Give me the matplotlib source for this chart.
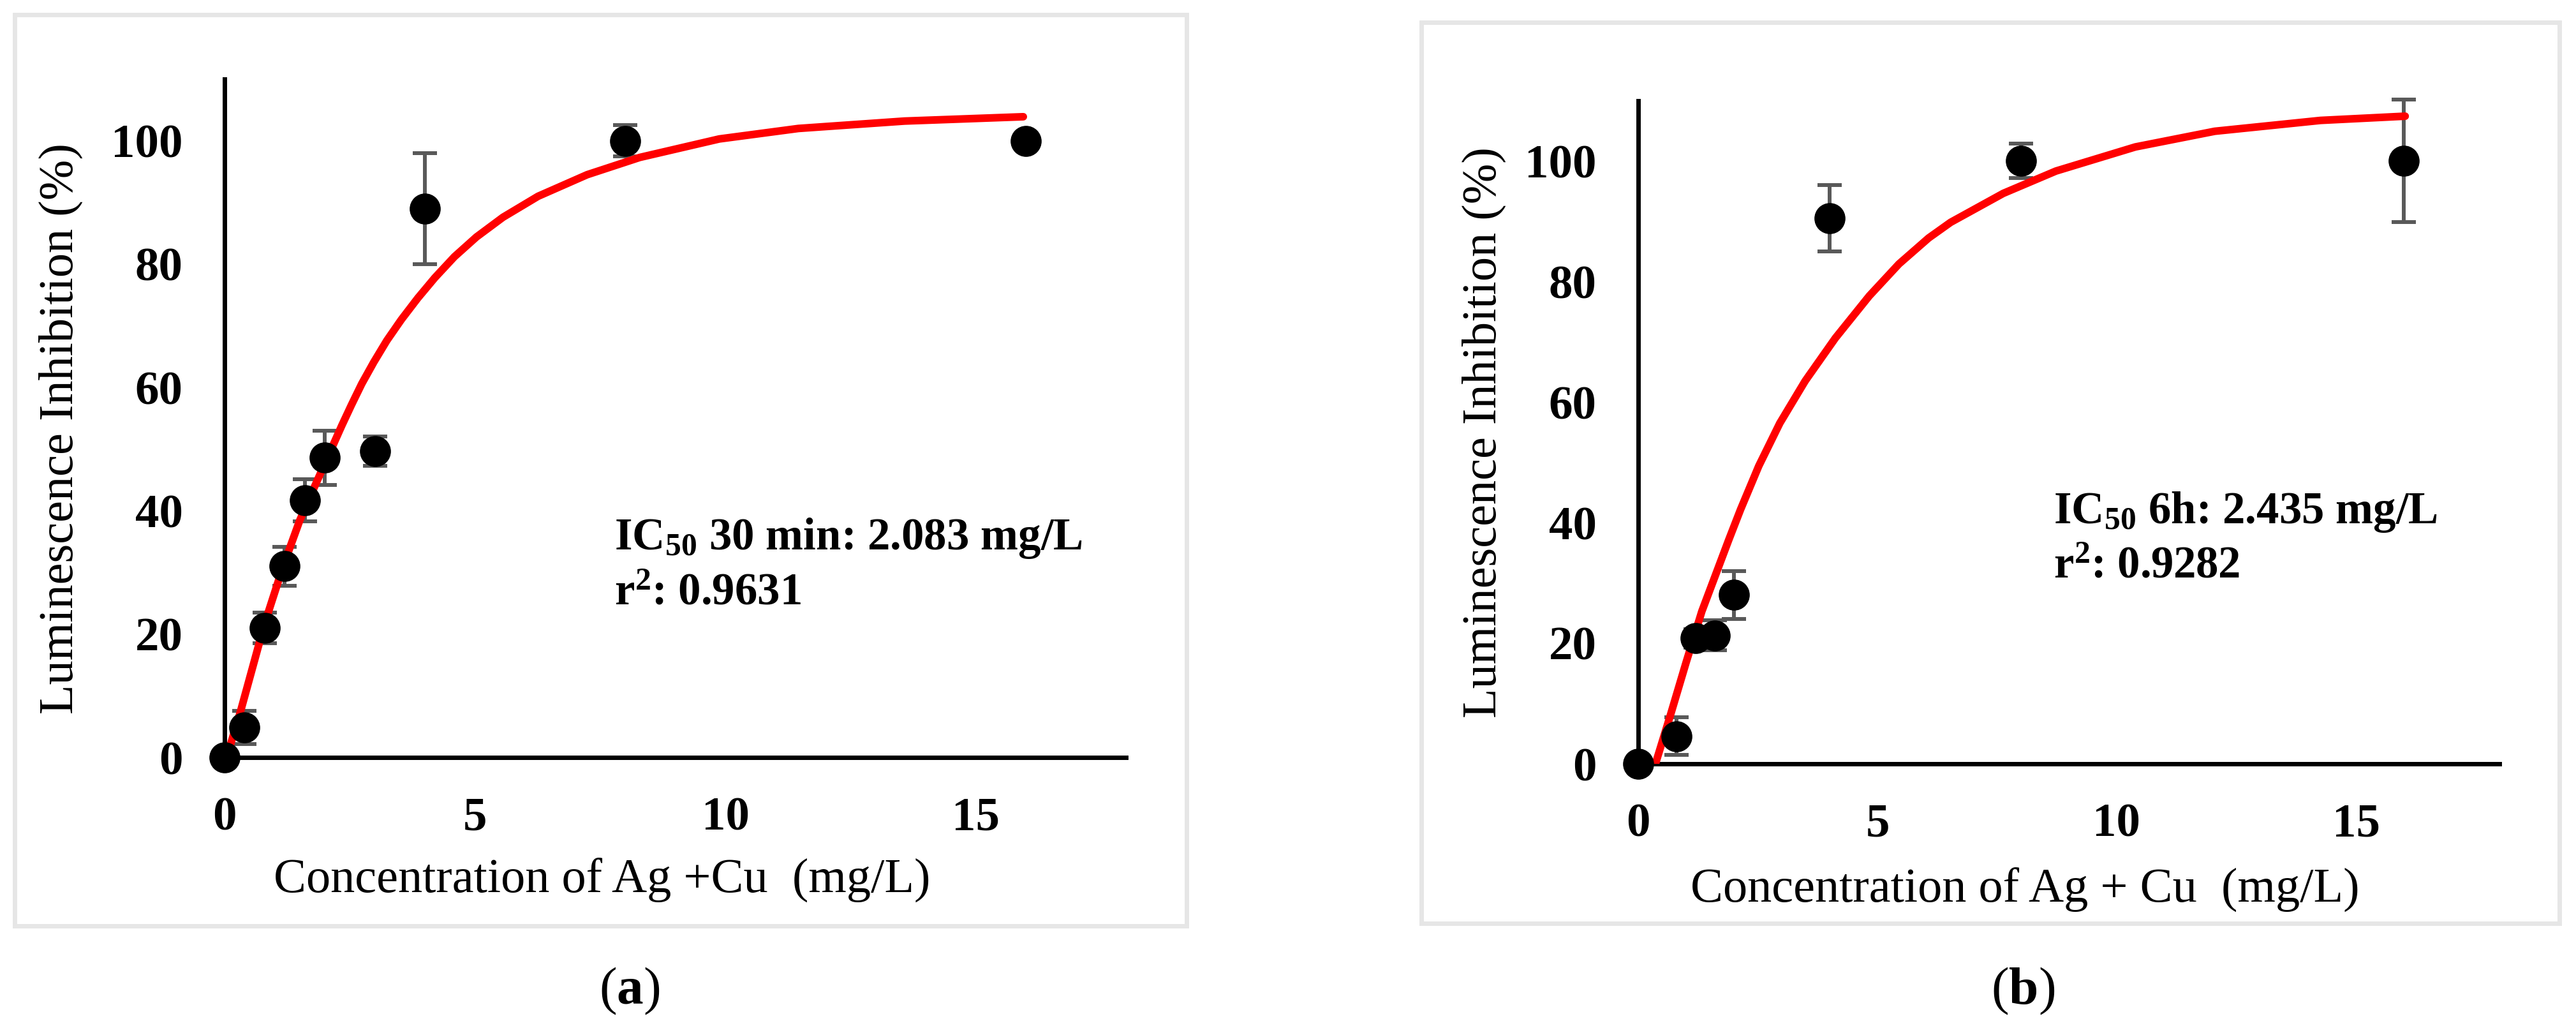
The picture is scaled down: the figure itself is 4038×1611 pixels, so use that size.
import matplotlib
matplotlib.use("Agg")
import matplotlib.pyplot as plt
from matplotlib.patches import Rectangle

plt.rcParams['font.family'] = ['Liberation Serif', 'DejaVu Serif']
plt.rcParams['mathtext.fontset'] = 'custom'
plt.rcParams['mathtext.rm'] = 'Liberation Serif:bold'
plt.rcParams['mathtext.it'] = 'Liberation Serif:bold:italic'
plt.rcParams['mathtext.bf'] = 'Liberation Serif:bold'

# (a) 30 min exposure
conc_a = [0, 0.4, 0.8, 1.2, 1.6, 2.0, 3.0, 4.0, 8.0, 16.0]
inhib_a = [0, 4.9, 21.0, 31.0, 41.7, 48.6, 49.7, 89.0, 100.0, 100.0]
err_a = [0, 2.7, 2.5, 3.2, 3.4, 4.4, 2.4, 9.0, 2.5, 0]
# fitted curve
fit_x_a = [0.06, 0.32, 0.8, 1.17, 1.50, 1.78, 2.06, 2.34, 2.53, 2.74, 2.98, 3.24,
           3.53, 3.86, 4.20, 4.59, 5.03, 5.56, 6.26, 7.24, 8.29, 9.88, 11.46,
           13.58, 15.95]
fit_y_a = [0.5, 7.5, 21.7, 31.0, 38.4, 43.6, 48.7, 53.8, 57.1, 60.6, 64.1, 67.6,
           71.0, 74.5, 77.8, 81.2, 84.4, 87.6, 91.0, 94.5, 97.3, 100.3, 102.0,
           103.2, 103.9]

# (b) 6 h exposure
conc_b = [0, 0.8, 1.2, 1.6, 2.0, 4.0, 8.0, 16.0]
inhib_b = [0, 4.6, 20.8, 21.3, 28.0, 90.5, 100.0, 100.0]
err_b = [0, 3.1, 1.5, 2.5, 4.0, 5.5, 2.9, 10.2]
fit_x_b = [0.36, 0.67, 1.0, 1.33, 1.89, 2.14, 2.52, 2.96, 3.49, 4.12, 4.83, 5.45,
           6.07, 6.53, 7.63, 8.73, 10.39, 12.05, 14.26, 16.03]
fit_y_b = [0.0, 8.0, 16.8, 25.3, 37.1, 42.2, 49.4, 56.5, 63.5, 70.6, 77.6, 82.9,
           87.2, 89.8, 94.6, 98.3, 102.3, 104.9, 106.7, 107.4]

xticks = [0, 5, 10, 15]
yticks = [0, 20, 40, 60, 80, 100]
ylabel = 'Luminescence Inhibition (%)'

W, H = 4038, 1611
fig = plt.figure(figsize=(W / 100, H / 100), dpi=100)

# light grey boxes around each panel
for x0, y0, x1, y1 in [(23, 23, 1860, 1451), (2228, 35, 4012, 1447)]:
    fig.patches.append(Rectangle((x0 / W, 1 - y1 / H), (x1 - x0) / W, (y1 - y0) / H,
                                 transform=fig.transFigure, fill=False,
                                 ec='#e6e6e6', lw=5))

ax_a = fig.add_axes([352 / W, 1 - 1187 / H, 1413 / W, 1063 / H])
ax_b = fig.add_axes([2568 / W, 1 - 1197 / H, 1350 / W, 1039.5 / H])

panels = [
    (ax_a, conc_a, inhib_a, err_a, fit_x_a, fit_y_a, 'IC$_{50}$ 30 min: 2.083 mg/L',
     'r$^2$: 0.9631', (7.78, 33.7, 24.8)),
    (ax_b, conc_b, inhib_b, err_b, fit_x_b, fit_y_b, 'IC$_{50}$ 6h: 2.435 mg/L',
     'r$^2$: 0.9282', (8.68, 39.9, 30.8)),
]

for ax, x, y, e, fx, fy, ic_txt, r_txt, (tx, ty1, ty2) in panels:
    ax.errorbar(x, y, yerr=e, fmt='none', ecolor='#595959', elinewidth=4.3,
                capsize=14, capthick=4.3, zorder=2, clip_on=False)
    ax.plot(fx, fy, color='#ff0000', lw=8.6, solid_capstyle='round',
            solid_joinstyle='round', zorder=3)
    ax.plot(x, y, 'o', color='black', ms=34, zorder=4, clip_on=False)
    ax.set_xlim(0, 18)
    ax.set_ylim(0, 110)
    ax.set_xticks(xticks)
    ax.set_yticks(yticks)
    for s in ['top', 'right']:
        ax.spines[s].set_visible(False)
    for s in ['left', 'bottom']:
        ax.spines[s].set_linewidth(5)
        ax.spines[s].set_zorder(1)
    ax.tick_params(axis='both', length=0, labelsize=54)
    ax.tick_params(axis='x', pad=44)
    ax.tick_params(axis='y', pad=47)
    for lab in ax.get_xticklabels() + ax.get_yticklabels():
        lab.set_fontweight('bold')
    ax.text(tx, ty1, ic_txt, fontsize=51, fontweight='bold', va='baseline')
    ax.text(tx, ty2, r_txt, fontsize=51, fontweight='bold', va='baseline')

# axis titles
fig.text(95 / W, 1 - 672 / H, ylabel, rotation=90, ha='center', va='center', fontsize=55)
fig.text(2326 / W, 1 - 678 / H, ylabel, rotation=90, ha='center', va='center', fontsize=55)
fig.text(944 / W, 1 - 1399 / H, 'Concentration of Ag +Cu  (mg/L)', ha='center',
         va='baseline', fontsize=55)
fig.text(3174 / W, 1 - 1414 / H, 'Concentration of Ag + Cu  (mg/L)', ha='center',
         va='baseline', fontsize=55)

# panel letters
fig.text(987 / W, 1 - 1553 / H, r'($\mathrm{a}$)', ha='center', va='center', fontsize=60)
fig.text(3171 / W, 1 - 1553 / H, r'($\mathrm{b}$)', ha='center', va='center', fontsize=60)

fig.savefig('out.png', dpi=100, facecolor='white')
